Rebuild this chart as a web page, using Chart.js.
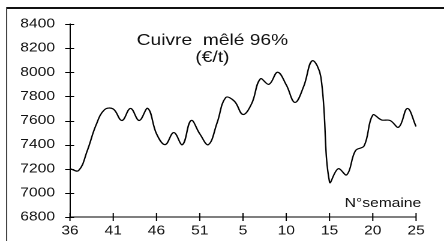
<!DOCTYPE html>
<html>
<head>
<meta charset="utf-8">
<script src="https://cdn.jsdelivr.net/npm/chart.js@4"></script>
<style>
  html, body { margin: 0; padding: 0; background: #fff; }
  #graph { display: block; }
</style>
</head>
<body>
<canvas id="graph" width="370" height="241" style="width:444px;height:241px"></canvas>
<script>
const graph = document.querySelector("#graph");

// numéros de semaine (axe x)
const semaines = [36, 37, 38, 39, 40, 41, 42, 43, 44, 45, 46, 47, 48, 49, 50, 51,
  1, 2, 3, 4, 5, 6, 7, 8, 9, 10, 11, 12, 13, 14, 15, 16, 17, 18, 19, 20, 21, 22, 23, 24, 25];

// prix cuivre mêlé 96% en €/t
const prix = [7200, 7185, 7350, 7560, 7690, 7695, 7600, 7700, 7600, 7700,
  7490, 7400, 7500, 7400, 7600, 7490, 7400, 7580, 7790, 7760,
  7650, 7740, 7945, 7900, 8000, 7895, 7750, 7880, 8095, 7960,
  7090, 7200, 7150, 7350, 7390, 7645, 7605, 7600, 7545, 7700, 7550];

const yMin = 6800;
const yMax = 8400;
const yStep = 200;
const labelEvery = 5;

const titre1 = "Cuivre  mêlé 96%";
const titre2 = "(€/t)";
const axeX = "N°semaine";

// cadre, titre et petites graduations qui croisent les axes
const decor = {
  id: "decor",
  beforeDraw(chart) {
    const ctx = chart.ctx;
    ctx.save();
    ctx.fillStyle = "#fff";
    ctx.fillRect(0, 0, chart.width, chart.height);
    ctx.fillStyle = "#111";
    ctx.fillRect(5, 7, chart.width, 2);
    ctx.fillStyle = "#444";
    ctx.fillRect(5, 7, 1, chart.height);
    ctx.restore();
  },
  afterDraw(chart) {
    const ctx = chart.ctx;
    const x = chart.scales.x;
    const y = chart.scales.y;
    ctx.save();
    ctx.strokeStyle = "#000";
    ctx.lineWidth = 1;
    ctx.beginPath();
    y.ticks.forEach((t) => {
      const py = Math.round(y.getPixelForValue(t.value)) + 0.5;
      ctx.moveTo(x.left - 4, py);
      ctx.lineTo(x.left + 3.5, py);
    });
    semaines.forEach((s, i) => {
      if (i % labelEvery !== 0) return;
      const px = x.getPixelForValue(i);
      ctx.moveTo(px, y.bottom - 4);
      ctx.lineTo(px, y.bottom + 4);
    });
    ctx.stroke();

    ctx.fillStyle = "#111";
    ctx.font = "16px 'Liberation Sans', Arial, sans-serif";
    ctx.textAlign = "center";
    ctx.textBaseline = "alphabetic";
    ctx.fillText(titre1, 177, 45);
    ctx.fillText(titre2, 177, 62);
    ctx.font = "13px 'Liberation Sans', Arial, sans-serif";
    ctx.textAlign = "right";
    ctx.fillText(axeX, 351, 207);
    ctx.restore();
  },
};

const chart = new Chart(graph, {
  type: "line",
  data: {
    labels: semaines,
    datasets: [
      {
        data: prix,
        borderColor: "#000",
        borderWidth: 1.2,
        pointRadius: 0,
        tension: 0.4,
        fill: false,
      },
    ],
  },
  options: {
    responsive: false,
    animation: false,
    devicePixelRatio: 2,
    layout: { padding: { left: 0, right: 23.3, top: 24, bottom: 0 } },
    plugins: {
      legend: { display: false },
      tooltip: { enabled: false },
    },
    scales: {
      x: {
        type: "category",
        offset: false,
        grid: { display: false, drawTicks: false },
        border: { display: true, color: "#000", width: 1 },
        ticks: {
          autoSkip: false,
          maxRotation: 0,
          padding: 6,
          color: "#111",
          font: { family: "'Liberation Sans', Arial, sans-serif", size: 13 },
          callback: (v, i) => (i % labelEvery === 0 ? semaines[i] : null),
        },
        afterFit: (s) => { s.height = 24; },
      },
      y: {
        min: yMin,
        max: yMax,
        grid: { display: false, drawTicks: false },
        border: { display: true, color: "#000", width: 1 },
        ticks: {
          stepSize: yStep,
          padding: 12.5,
          color: "#111",
          font: { family: "'Liberation Sans', Arial, sans-serif", size: 13 },
          callback: (v) => String(v),
        },
        afterFit: (s) => { s.width = 58.3; },
      },
    },
  },
  plugins: [decor],
});
</script>
</body>
</html>
